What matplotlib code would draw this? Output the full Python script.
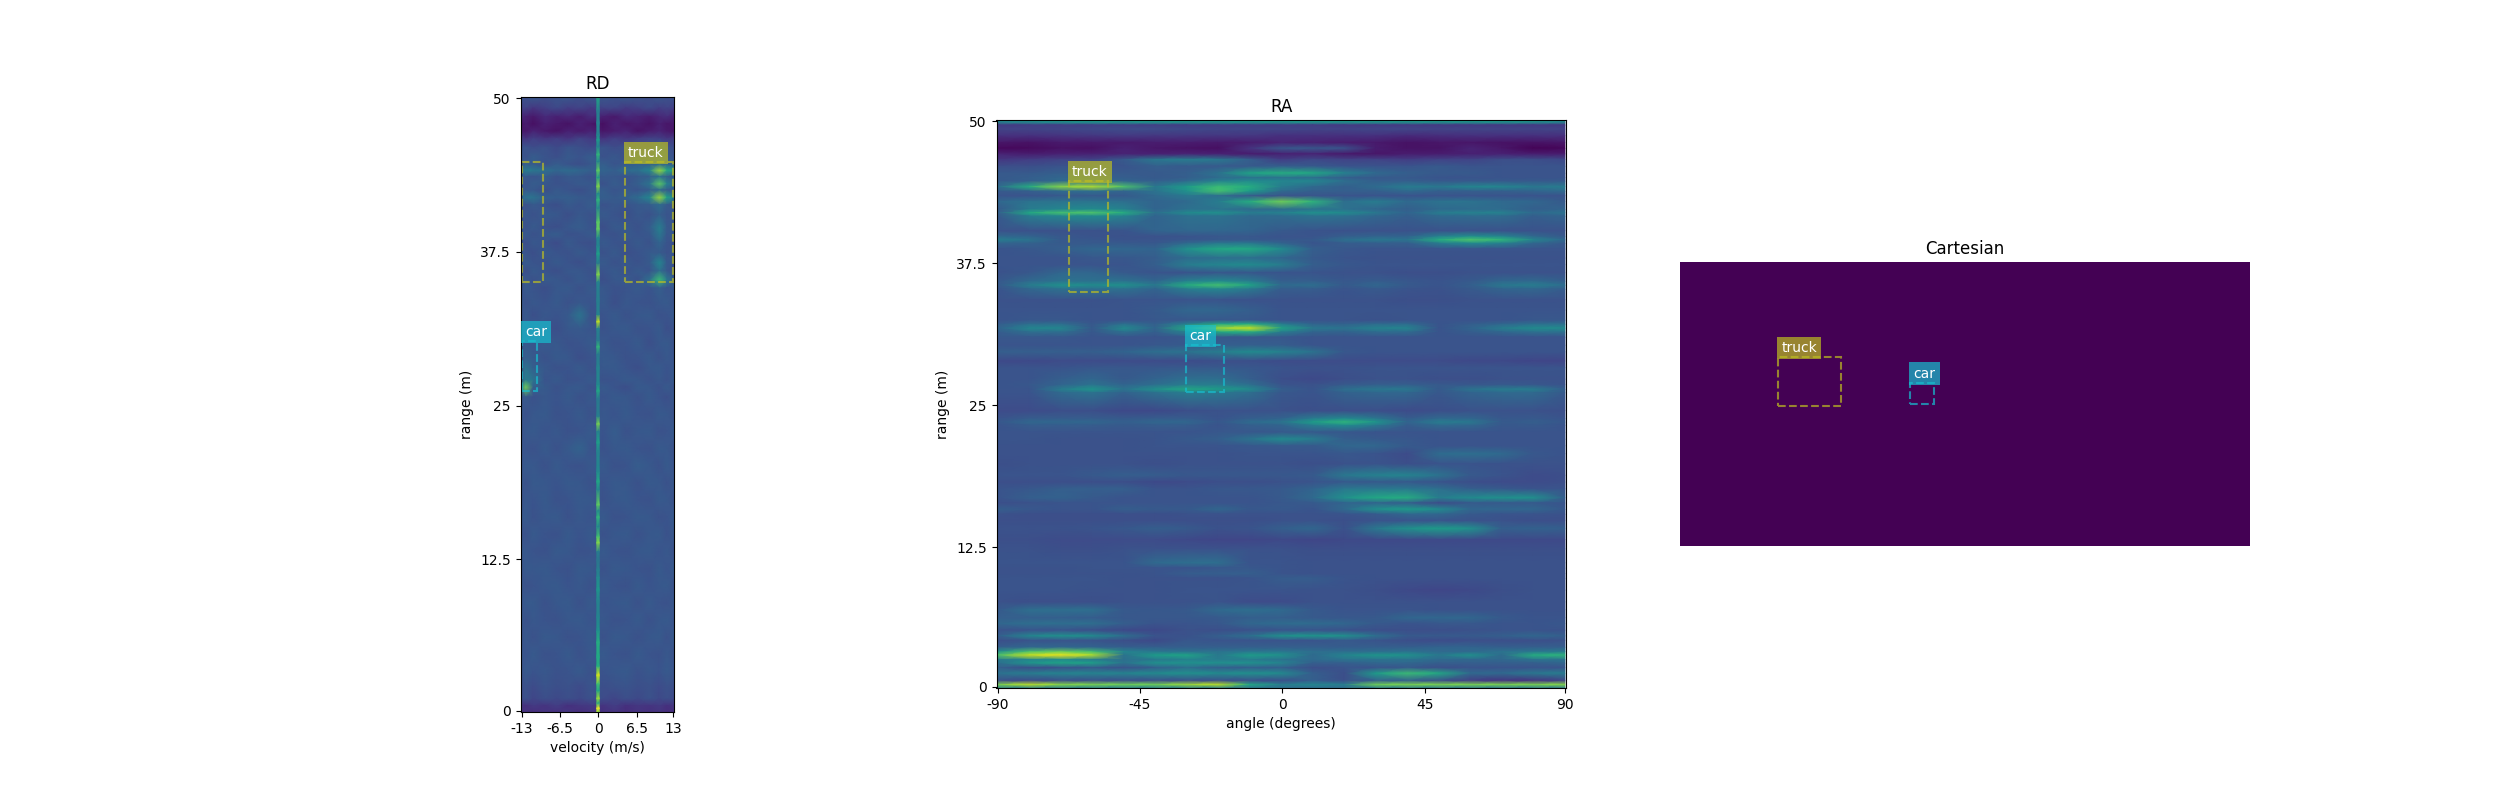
import numpy as np
import matplotlib
matplotlib.use("Agg")
import matplotlib.pyplot as plt
from matplotlib.patches import Rectangle

# range-angle map, values in % of the colour scale
ra_angles = list(range(-90, 91, 10))
ra_ranges = [50.1, 49.9, 49.65, 49.3, 48.7, 48.1, 47.6, 47.1, 46.6, 46.0, 45.4, 45.0, 44.7, 44.2, 43.8, 43.4,
             42.9, 42.2, 41.9, 41.6, 40.3, 39.8, 39.5, 39.2, 38.7, 37.9, 37.3, 36.6, 35.85, 35.5, 35.15, 34.2,
             33.3, 32.4, 32.05, 31.7, 31.35, 30.9, 30.2, 29.6, 28.8, 28.2, 27.2, 26.7, 26.3, 26.0, 24.4, 23.7,
             23.4, 23.1, 22.5, 21.9, 21.3, 20.6, 19.7, 18.7, 18.1, 17.5, 16.7, 16.25, 15.7, 15.25, 14.7, 14.0,
             13.0, 12.2, 10.95, 10.5, 10.0, 9.6, 8.55, 7.5, 6.8, 6.1, 5.6, 5.0, 4.5, 4.1, 3.5, 3.1,
             2.8, 2.4, 2.1, 1.7, 1.2, 0.55, 0.2, -0.1]
ra_values = [
    [45, 48, 50, 52, 52, 52, 52, 52, 52, 52, 52, 52, 52, 52, 52, 52, 52, 50, 45],
    [45, 48, 50, 52, 52, 52, 52, 52, 52, 52, 52, 52, 52, 52, 52, 52, 52, 50, 45],
    [17, 18, 18, 19, 19, 19, 18, 18, 18, 18, 18, 17, 17, 17, 17, 17, 17, 17, 17],
    [20, 20, 21, 22, 23, 23, 22, 21, 21, 21, 20, 20, 21, 21, 20, 20, 20, 20, 20],
    [14, 14, 15, 16, 17, 16, 16, 16, 16, 14, 14, 14, 14, 12, 13, 14, 14, 14, 14],
    [6, 5, 7, 7, 7, 8, 8, 7, 8, 10, 9, 8, 7, 5, 6, 6, 5, 5, 6],
    [2, 3, 5, 4, 9, 6, 5, 4, 15, 27, 27, 26, 8, 5, 5, 10, 6, 1, 2],
    [10, 8, 9, 9, 10, 9, 10, 9, 8, 9, 10, 7, 6, 8, 8, 9, 9, 8, 8],
    [16, 18, 20, 20, 28, 40, 42, 40, 30, 18, 22, 20, 20, 18, 20, 20, 24, 24, 22],
    [24, 24, 26, 26, 26, 30, 28, 28, 28, 30, 28, 26, 26, 26, 28, 26, 26, 26, 26],
    [28, 28, 30, 28, 28, 28, 30, 38, 58, 62, 60, 44, 34, 30, 28, 28, 26, 26, 26],
    [28, 30, 33, 30, 30, 28, 30, 35, 38, 38, 36, 30, 28, 28, 26, 26, 26, 26, 26],
    [28, 30, 34, 34, 32, 30, 34, 44, 48, 46, 46, 36, 30, 30, 28, 28, 28, 28, 28],
    [35, 62, 82, 88, 72, 40, 55, 68, 62, 42, 34, 30, 35, 42, 40, 46, 46, 40, 42],
    [28, 30, 34, 36, 32, 38, 50, 70, 55, 34, 30, 30, 30, 34, 30, 30, 30, 32, 34],
    [26, 26, 28, 28, 28, 34, 40, 36, 28, 26, 26, 26, 26, 26, 26, 26, 26, 26, 26],
    [33, 38, 38, 38, 36, 32, 34, 42, 62, 78, 65, 36, 42, 34, 38, 38, 34, 33, 28],
    [28, 42, 46, 48, 44, 32, 37, 38, 34, 35, 38, 37, 33, 30, 34, 35, 35, 30, 32],
    [30, 60, 70, 72, 62, 36, 48, 50, 42, 44, 50, 48, 40, 32, 42, 44, 44, 34, 38],
    [28, 42, 46, 48, 44, 32, 37, 38, 34, 35, 38, 37, 33, 30, 34, 35, 35, 30, 32],
    [25, 25, 25, 25, 26, 32, 33, 33, 32, 28, 26, 25, 25, 25, 25, 25, 25, 25, 25],
    [34, 32, 27, 26, 25, 25, 26, 27, 27, 26, 26, 30, 32, 32, 44, 50, 46, 34, 28],
    [42, 38, 28, 27, 26, 26, 27, 28, 28, 27, 28, 36, 40, 38, 62, 72, 65, 45, 33],
    [32, 31, 28, 28, 28, 27, 34, 40, 40, 32, 26, 29, 30, 30, 42, 48, 44, 33, 28],
    [26, 27, 30, 33, 33, 32, 50, 60, 60, 48, 30, 27, 26, 26, 26, 26, 26, 26, 26],
    [26, 26, 26, 27, 27, 29, 35, 36, 36, 33, 28, 26, 25, 25, 25, 25, 25, 25, 25],
    [26, 26, 26, 26, 26, 30, 42, 46, 48, 42, 30, 27, 26, 26, 26, 26, 26, 26, 26],
    [25, 27, 33, 33, 28, 26, 26, 27, 27, 26, 26, 25, 25, 24, 24, 25, 25, 25, 25],
    [27, 34, 38, 37, 38, 33, 44, 48, 42, 30, 30, 27, 29, 27, 26, 28, 33, 34, 30],
    [28, 42, 50, 48, 50, 40, 62, 70, 58, 34, 36, 28, 33, 28, 26, 30, 40, 42, 36],
    [26, 33, 37, 36, 37, 32, 42, 46, 40, 29, 29, 26, 28, 26, 25, 28, 32, 33, 29],
    [25, 25, 25, 25, 26, 26, 26, 26, 25, 25, 25, 25, 25, 24, 24, 25, 25, 25, 25],
    [26, 26, 26, 26, 26, 28, 33, 33, 30, 26, 26, 26, 26, 26, 26, 26, 26, 26, 26],
    [26, 27, 27, 26, 26, 27, 27, 27, 27, 26, 26, 26, 25, 26, 26, 26, 26, 27, 27],
    [29, 36, 36, 27, 37, 30, 44, 60, 62, 42, 32, 31, 35, 35, 26, 29, 33, 37, 37],
    [32, 46, 46, 28, 48, 32, 60, 85, 92, 58, 40, 38, 44, 45, 26, 32, 42, 48, 48],
    [29, 36, 36, 27, 37, 30, 44, 60, 62, 42, 32, 31, 35, 35, 26, 29, 33, 37, 37],
    [27, 27, 27, 26, 26, 26, 27, 27, 27, 27, 26, 26, 26, 26, 26, 26, 26, 26, 26],
    [26, 26, 26, 26, 26, 27, 28, 30, 30, 29, 26, 26, 26, 26, 26, 26, 26, 26, 26],
    [30, 30, 30, 30, 32, 36, 38, 42, 48, 44, 38, 27, 26, 26, 26, 26, 26, 26, 26],
    [22, 22, 23, 23, 23, 23, 23, 24, 24, 23, 23, 23, 23, 23, 23, 22, 22, 21, 21],
    [26, 26, 26, 27, 27, 27, 28, 28, 27, 26, 25, 25, 26, 26, 26, 26, 26, 26, 26],
    [26, 26, 30, 33, 28, 32, 36, 36, 30, 24, 22, 24, 25, 25, 24, 24, 25, 25, 25],
    [26, 27, 32, 38, 32, 36, 42, 42, 36, 26, 25, 28, 30, 30, 28, 27, 28, 27, 26],
    [26, 26, 42, 52, 38, 50, 60, 55, 48, 30, 26, 36, 40, 40, 28, 38, 42, 42, 30],
    [26, 26, 34, 38, 31, 37, 42, 40, 36, 27, 26, 31, 33, 33, 27, 32, 34, 34, 28],
    [23, 23, 24, 24, 22, 22, 24, 25, 25, 25, 24, 24, 24, 23, 24, 25, 25, 25, 24],
    [26, 29, 29, 29, 28, 29, 29, 26, 30, 32, 42, 48, 40, 29, 34, 33, 27, 28, 26],
    [27, 33, 33, 33, 30, 33, 33, 27, 35, 38, 55, 65, 52, 32, 42, 40, 28, 30, 27],
    [26, 29, 29, 29, 28, 29, 29, 26, 30, 32, 42, 48, 40, 29, 34, 33, 27, 28, 26],
    [26, 26, 26, 26, 26, 26, 26, 27, 27, 28, 28, 27, 26, 26, 26, 26, 26, 26, 26],
    [26, 26, 25, 25, 25, 26, 28, 30, 38, 48, 42, 30, 28, 27, 26, 26, 26, 26, 26],
    [25, 25, 25, 25, 25, 26, 26, 26, 27, 28, 28, 33, 33, 28, 26, 26, 26, 26, 26],
    [25, 25, 25, 25, 25, 25, 25, 25, 26, 26, 26, 27, 26, 23, 35, 36, 34, 27, 26],
    [24, 25, 25, 25, 25, 24, 25, 25, 25, 25, 24, 25, 26, 24, 26, 26, 25, 25, 25],
    [26, 26, 26, 28, 30, 29, 27, 27, 27, 27, 28, 40, 44, 45, 38, 28, 26, 23, 24],
    [24, 24, 24, 24, 24, 22, 23, 24, 24, 25, 26, 28, 28, 28, 26, 24, 23, 23, 24],
    [26, 27, 30, 30, 30, 26, 26, 27, 27, 28, 32, 40, 40, 40, 36, 30, 28, 26, 26],
    [26, 30, 31, 28, 26, 26, 26, 26, 26, 28, 34, 50, 60, 62, 42, 48, 50, 50, 30],
    [24, 25, 26, 26, 26, 26, 26, 26, 26, 27, 28, 32, 32, 30, 23, 28, 28, 28, 26],
    [30, 27, 26, 26, 30, 28, 28, 33, 27, 28, 26, 34, 50, 55, 48, 33, 33, 33, 27],
    [25, 24, 24, 24, 24, 24, 25, 25, 25, 25, 25, 26, 28, 33, 33, 28, 26, 26, 25],
    [24, 24, 24, 24, 24, 24, 24, 24, 24, 25, 25, 24, 26, 26, 26, 25, 25, 24, 24],
    [25, 25, 25, 26, 27, 30, 28, 25, 26, 30, 33, 25, 40, 50, 55, 50, 30, 31, 30],
    [24, 24, 23, 23, 23, 23, 22, 21, 21, 22, 21, 22, 22, 22, 22, 22, 22, 22, 22],
    [25, 25, 24, 24, 25, 25, 25, 25, 25, 25, 24, 24, 24, 24, 24, 24, 24, 24, 24],
    [26, 26, 26, 26, 26, 34, 36, 36, 26, 26, 25, 25, 25, 25, 25, 25, 25, 25, 25],
    [25, 25, 25, 26, 26, 26, 26, 27, 27, 26, 25, 25, 25, 25, 25, 25, 25, 25, 25],
    [25, 25, 25, 25, 25, 26, 29, 30, 30, 26, 25, 25, 25, 25, 25, 25, 25, 25, 25],
    [26, 26, 26, 26, 25, 25, 25, 25, 26, 29, 29, 26, 25, 25, 25, 25, 25, 25, 25],
    [26, 26, 26, 25, 25, 25, 26, 26, 26, 26, 25, 25, 24, 22, 21, 22, 24, 25, 25],
    [25, 24, 24, 24, 25, 25, 25, 26, 23, 23, 25, 25, 25, 25, 25, 25, 25, 25, 25],
    [28, 36, 36, 36, 28, 27, 28, 34, 36, 34, 28, 26, 26, 26, 25, 25, 25, 25, 25],
    [30, 30, 30, 29, 27, 27, 27, 28, 30, 30, 28, 27, 28, 33, 33, 33, 28, 26, 26],
    [33, 36, 36, 36, 30, 26, 26, 27, 33, 35, 35, 33, 28, 26, 27, 27, 26, 26, 27],
    [25, 26, 26, 24, 22, 22, 25, 24, 25, 26, 26, 25, 24, 24, 24, 25, 26, 26, 25],
    [30, 46, 50, 48, 36, 26, 25, 30, 36, 50, 52, 50, 36, 28, 28, 28, 30, 33, 30],
    [24, 26, 26, 26, 24, 22, 27, 26, 26, 26, 26, 28, 26, 24, 23, 24, 24, 24, 25],
    [30, 33, 33, 32, 30, 30, 30, 30, 30, 30, 30, 29, 30, 30, 32, 32, 30, 30, 30],
    [50, 72, 78, 70, 45, 40, 38, 38, 40, 40, 36, 36, 36, 38, 34, 34, 38, 40, 42],
    [72, 92, 97, 88, 38, 55, 58, 40, 55, 50, 34, 45, 52, 50, 40, 50, 35, 62, 65],
    [40, 45, 48, 42, 36, 40, 44, 42, 42, 38, 34, 38, 38, 38, 34, 33, 33, 38, 38],
    [36, 52, 58, 56, 38, 50, 50, 50, 50, 45, 30, 30, 33, 33, 30, 30, 30, 30, 33],
    [30, 24, 26, 28, 25, 30, 36, 30, 30, 30, 24, 26, 26, 28, 24, 26, 26, 26, 26],
    [38, 42, 45, 45, 45, 48, 50, 48, 50, 48, 30, 24, 55, 68, 60, 34, 34, 40, 42],
    [24, 22, 24, 24, 24, 24, 24, 24, 24, 24, 30, 24, 30, 30, 24, 18, 15, 15, 20],
    [80, 90, 82, 80, 78, 78, 85, 90, 60, 42, 46, 42, 78, 80, 80, 80, 80, 80, 82],
    [42, 42, 42, 42, 42, 42, 42, 42, 38, 36, 36, 36, 40, 40, 40, 40, 40, 40, 40],
]

# range-doppler map background, same scale
rd_velocities = [-13.3, -12.3, -11, -9, -7, -5, -3, -1, 1, 3, 5, 7, 9, 10.7, 12, 13.3]
rd_ranges = [50.1, 49.2, 48.5, 47.9, 47.3, 46.7, 46.0, 45.2, 44.6, 44.1, 43.6, 43.0, 42.5, 41.9, 41.3, 40.5,
             39.5, 38.9, 38.2, 37.4, 36.6, 35.9, 35.2, 34.5, 33.3, 32.3, 31.2, 30.0, 28.8, 28.0, 27.0, 26.4,
             25.6, 24.2, 22.8, 21.4, 20.0, 18.6, 17.2, 15.8, 14.4, 13.0, 11.6, 10.2, 8.8, 7.4, 6.0, 4.6,
             3.2, 2.0, 1.0, 0.4, -0.1]
rd_values = [
    [27, 25, 28, 24, 26, 27, 24, 28, 27, 25, 28, 26, 24, 27, 25, 26],
    [18, 20, 16, 19, 22, 18, 20, 17, 20, 21, 17, 19, 22, 18, 20, 18],
    [12, 9, 7, 12, 9, 11, 8, 13, 9, 7, 12, 10, 8, 11, 13, 9],
    [5, 8, 4, 9, 7, 5, 9, 6, 4, 9, 6, 8, 5, 9, 6, 7],
    [8, 6, 10, 7, 5, 9, 7, 10, 6, 8, 10, 5, 8, 10, 7, 6],
    [18, 15, 19, 16, 18, 15, 20, 17, 15, 19, 16, 18, 20, 19, 16, 18],
    [24, 26, 23, 25, 22, 26, 24, 22, 26, 23, 25, 24, 22, 32, 25, 23],
    [27, 25, 29, 26, 24, 28, 26, 29, 25, 27, 24, 28, 26, 30, 27, 25],
    [26, 29, 28, 25, 29, 26, 24, 27, 30, 26, 28, 30, 30, 34, 30, 29],
    [36, 42, 40, 36, 33, 35, 33, 30, 32, 30, 35, 36, 46, 85, 62, 50],
    [26, 28, 26, 29, 25, 28, 27, 25, 28, 27, 26, 28, 30, 38, 30, 28],
    [28, 26, 29, 27, 25, 26, 28, 27, 25, 29, 26, 30, 38, 75, 44, 34],
    [25, 28, 27, 24, 28, 26, 24, 27, 29, 26, 28, 26, 29, 34, 28, 27],
    [30, 38, 38, 30, 29, 30, 28, 27, 30, 28, 30, 35, 46, 85, 58, 42],
    [27, 25, 28, 26, 24, 28, 26, 29, 25, 27, 26, 28, 29, 35, 28, 26],
    [24, 27, 25, 28, 27, 24, 27, 25, 28, 26, 24, 27, 25, 30, 26, 28],
    [27, 25, 28, 25, 24, 27, 29, 26, 24, 28, 27, 25, 29, 42, 28, 25],
    [25, 28, 25, 27, 29, 25, 26, 28, 26, 25, 28, 26, 27, 40, 27, 28],
    [26, 24, 27, 26, 23, 28, 25, 24, 28, 26, 25, 28, 25, 32, 26, 24],
    [28, 26, 24, 28, 26, 25, 28, 26, 25, 28, 24, 26, 28, 28, 25, 27],
    [25, 28, 26, 25, 28, 26, 24, 27, 28, 25, 27, 25, 28, 46, 28, 26],
    [27, 24, 28, 26, 24, 27, 27, 25, 26, 28, 25, 28, 26, 36, 27, 24],
    [26, 27, 25, 28, 27, 25, 28, 26, 24, 27, 28, 25, 36, 68, 40, 28],
    [24, 28, 26, 24, 27, 28, 25, 28, 27, 25, 26, 28, 26, 30, 26, 27],
    [28, 25, 27, 26, 28, 25, 27, 26, 28, 24, 27, 26, 25, 27, 28, 25],
    [25, 28, 24, 27, 26, 28, 38, 25, 26, 28, 25, 27, 28, 25, 26, 28],
    [27, 26, 28, 25, 24, 27, 28, 26, 25, 27, 28, 25, 26, 28, 24, 26],
    [26, 28, 26, 28, 27, 25, 26, 28, 27, 25, 26, 28, 24, 27, 28, 25],
    [27, 30, 28, 25, 28, 27, 24, 26, 28, 27, 25, 26, 28, 25, 27, 26],
    [28, 38, 30, 27, 25, 26, 28, 25, 27, 28, 26, 24, 27, 28, 26, 27],
    [30, 42, 38, 26, 28, 25, 26, 28, 25, 26, 28, 27, 25, 27, 25, 28],
    [32, 78, 30, 28, 25, 27, 28, 25, 28, 26, 24, 28, 27, 25, 28, 25],
    [26, 28, 25, 27, 26, 28, 25, 27, 26, 28, 27, 25, 28, 26, 24, 27],
    [28, 25, 27, 28, 25, 26, 28, 25, 27, 26, 28, 26, 25, 28, 27, 25],
    [25, 27, 28, 26, 27, 25, 26, 28, 26, 29, 25, 27, 28, 25, 26, 28],
    [27, 26, 25, 28, 25, 28, 31, 26, 25, 27, 28, 26, 25, 28, 27, 25],
    [26, 28, 27, 25, 28, 26, 25, 27, 28, 25, 26, 29, 27, 25, 28, 26],
    [28, 25, 28, 27, 26, 28, 27, 25, 26, 28, 27, 25, 28, 27, 25, 27],
    [25, 27, 26, 28, 25, 26, 28, 27, 25, 27, 28, 26, 25, 28, 27, 25],
    [27, 28, 25, 27, 28, 25, 27, 26, 28, 25, 26, 28, 27, 25, 26, 28],
    [26, 25, 28, 26, 25, 28, 26, 28, 25, 27, 28, 25, 27, 28, 25, 27],
    [28, 27, 26, 25, 28, 27, 25, 26, 28, 26, 25, 27, 28, 26, 27, 25],
    [25, 28, 27, 28, 26, 25, 28, 27, 25, 28, 27, 26, 25, 28, 26, 28],
    [27, 25, 26, 27, 28, 26, 27, 25, 28, 26, 25, 28, 26, 27, 28, 25],
    [26, 28, 28, 25, 27, 28, 25, 28, 26, 27, 28, 25, 28, 26, 25, 27],
    [28, 25, 27, 26, 25, 27, 28, 26, 27, 25, 26, 28, 25, 27, 28, 26],
    [25, 27, 25, 28, 27, 25, 26, 28, 25, 28, 27, 25, 27, 28, 25, 28],
    [27, 26, 28, 25, 26, 28, 25, 27, 28, 26, 25, 28, 26, 25, 27, 25],
    [25, 28, 26, 27, 25, 26, 28, 25, 26, 27, 28, 25, 27, 26, 28, 26],
    [24, 25, 23, 26, 24, 25, 23, 26, 24, 25, 26, 24, 25, 23, 25, 24],
    [22, 25, 21, 24, 22, 24, 22, 25, 23, 21, 24, 22, 25, 22, 24, 22],
    [16, 14, 17, 15, 18, 14, 16, 17, 15, 18, 14, 16, 15, 17, 14, 16],
    [14, 15, 13, 15, 14, 16, 13, 15, 14, 15, 13, 15, 14, 15, 13, 14],
]

# the bright column at zero velocity
rd_line_ranges = [50.1, 49.0, 48.0, 47.0, 46.6, 46.0, 45.4, 44.8, 44.1, 43.5, 42.8, 42.2, 41.7, 41.0, 39.9, 39.3,
                  38.6, 37.9, 37.3, 36.5, 35.6, 35.0, 33.5, 32.3, 31.75, 31.2, 30.2, 29.7, 29.1, 28.0, 26.6, 26.1,
                  25.5, 24.0, 23.4, 22.8, 21.9, 21.2, 19.5, 18.7, 18.0, 16.8, 16.3, 15.8, 15.0, 14.2, 13.7, 13.0,
                  12.3, 11.5, 10.9, 9.85, 9.0, 7.7, 6.5, 5.6, 4.4, 3.6, 2.9, 2.2, 1.6, 1.0, 0.6, 0.2, -0.1]
rd_line_values = [60, 42, 44, 44, 55, 42, 66, 44, 76, 52, 82, 46, 66, 44, 74, 76,
                  46, 44, 56, 40, 82, 44, 42, 44, 92, 44, 40, 66, 40, 44, 46, 60,
                  40, 42, 80, 42, 56, 44, 46, 60, 44, 76, 46, 66, 44, 70, 82, 42,
                  38, 42, 46, 52, 44, 44, 50, 62, 60, 62, 95, 70, 58, 86, 58, 100, 80]

range_ticks = [0, 12.35, 24.9, 37.45, 50]
range_tick_labels = ["0", "12.5", "25", "37.5", "50"]
rd_ticks = [-13, -6.4, 0.2, 6.8, 13]
rd_tick_labels = ["-13", "-6.5", "0", "6.5", "13"]
ra_ticks = [-90, -44.8, 0.35, 45.5, 90]
ra_tick_labels = ["-90", "-45", "0", "45", "90"]

# boxes: label, x0, y0, x1, y1 (y1 is the top edge on screen)
rd_boxes = [("truck", 4.7, 35.0, 13.1, 44.8), ("car", -13.0, 26.1, -10.45, 30.2)]
rd_box_extra = [(-13.0, 35.0, -9.25, 44.8)]
ra_boxes = [("truck", -67.5, 34.9, -54.85, 44.7), ("car", -30.1, 26.1, -18.3, 30.2)]
cart_boxes = [("truck", 87.8, 129.0, 143.9, 85.4), ("car", 206.4, 127.3, 227.4, 108.3)]
box_colors = {"truck": "tab:olive", "car": "tab:cyan"}

W, H = 2500, 800


def make_axes(left, top, right, bottom):
    return fig.add_axes([left / W, 1 - bottom / H, (right - left) / W, (bottom - top) / H])


def add_box(ax, label, x0, y0, x1, y1, with_label=True):
    color = box_colors[label]
    ax.add_patch(Rectangle((x0, y0), x1 - x0, y1 - y0, fill=False, edgecolor=color,
                           linestyle="--", linewidth=1.5, alpha=0.7))
    if with_label:
        ax.annotate(label, xy=(x0, y1), xytext=(2.3, 1.5), textcoords="offset points",
                    color="white", va="bottom",
                    bbox=dict(facecolor=color, edgecolor="none", alpha=0.7, pad=3))


fig = plt.figure(figsize=(25, 8), dpi=100)

# RD
ax1 = make_axes(520.5, 97, 674, 712)
ax1.pcolormesh(rd_velocities, rd_ranges, np.array(rd_values), shading="gouraud", cmap="viridis", vmin=0, vmax=100)
line = np.column_stack([rd_line_values, rd_line_values])
ax1.pcolormesh([-0.07, 0.33], rd_line_ranges, line, shading="gouraud", cmap="viridis", vmin=0, vmax=100)
ax1.set_xlim(-13.206, 13.206)
ax1.set_ylim(-0.1, 50.1)
ax1.set_xticks(rd_ticks, rd_tick_labels)
ax1.set_yticks(range_ticks, range_tick_labels)
ax1.set_xlabel("velocity (m/s)")
ax1.set_ylabel("range (m)")
ax1.set_title("RD")
for label, x0, y0, x1, y1 in rd_boxes:
    add_box(ax1, label, x0, y0, x1, y1)
for x0, y0, x1, y1 in rd_box_extra:
    add_box(ax1, "truck", x0, y0, x1, y1, with_label=False)

# RA
ax2 = make_axes(996.5, 120, 1566, 688)
ax2.pcolormesh(ra_angles, ra_ranges, np.array(ra_values), shading="gouraud", cmap="viridis", vmin=0, vmax=100)
ax2.set_xlim(-90.35, 90.35)
ax2.set_ylim(-0.1, 50.1)
ax2.set_xticks(ra_ticks, ra_tick_labels)
ax2.set_yticks(range_ticks, range_tick_labels)
ax2.set_xlabel("angle (degrees)")
ax2.set_ylabel("range (m)")
ax2.set_title("RA")
for label, x0, y0, x1, y1 in ra_boxes:
    add_box(ax2, label, x0, y0, x1, y1)

# Cartesian, empty grid
ax3 = make_axes(1680, 262, 2250, 546)
ax3.imshow(np.zeros((256, 512)), cmap="viridis", vmin=0, vmax=100, aspect="auto")
ax3.axis("off")
ax3.set_title("Cartesian")
for label, x0, y0, x1, y1 in cart_boxes:
    add_box(ax3, label, x0, y0, x1, y1)

fig.savefig("out.png", dpi=100)
